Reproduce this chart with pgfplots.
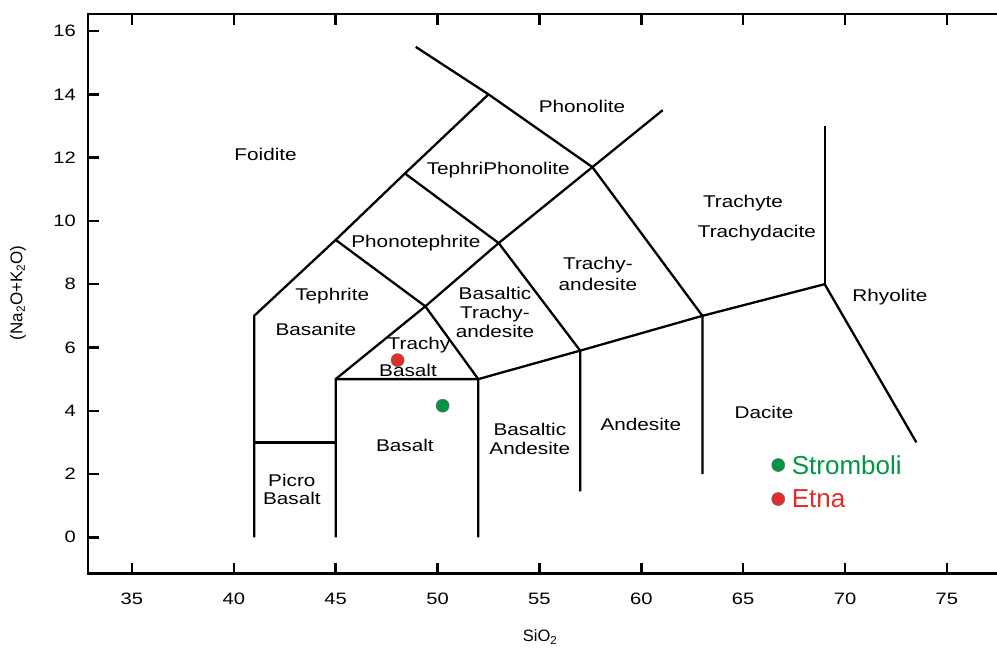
\documentclass[border=0pt]{standalone}
\usepackage{pgfplots}
\pgfplotsset{compat=1.18}
\usepackage{fontspec}
\setmainfont{Liberation Sans}
\newfontfamily\stretched[FakeStretch=1.22]{Liberation Sans}
\definecolor{sgreen}{RGB}{0,150,70}
\definecolor{ered}{RGB}{225,45,40}
\newcommand{\lbl}{\stretched\fontsize{17}{19}\selectfont}
\pgfplotsset{bnd/.style={black, solid, line width=2.3pt, no marks}}
\begin{document}
\begin{tikzpicture}
\begin{axis}[name=ax, scale only axis, width=911pt, height=559.4pt,
 xmin=32.86, xmax=77.57, ymin=-1.15, ymax=16.53,
 xtick={35,40,...,75}, ytick={0,2,...,16},
 tick align=inside, ytick pos=left, xtick pos=both,
 major tick length=11pt,
 axis line style={line width=2.4pt},
 tick style={line width=2.4pt, black},
 ticklabel style={font=\stretched\fontsize{16.5}{18}\selectfont},
 xticklabel style={yshift=-16pt},
 yticklabel style={xshift=-9pt},
 /pgf/number format/assume math mode=true,
 xlabel={SiO\textsubscript{2}}, ylabel={(Na\textsubscript{2}O+K\textsubscript{2}O)},
 x label style={font=\fontsize{16.5}{19}\selectfont, at={(axis description cs:0.496,-0.113)}, anchor=center},
 y label style={font=\fontsize{17}{19}\selectfont, at={(axis description cs:-0.0772,0.502)}, anchor=center, rotate=0},
 clip=false,
]
% boundary lines
\addplot[bnd] coordinates {(41,0) (41,7) (45,9.4) (48.4,11.5) (52.5,14)};
\addplot[bnd] coordinates {(48.93,15.5) (52.5,14) (57.6,11.7) (63,7) (63,2)};
\addplot[bnd] coordinates {(41,3) (45,3)};
\addplot[bnd] coordinates {(45,0) (45,5) (49.4,7.3) (53,9.3) (57.6,11.7) (61.05,13.5)};
\addplot[bnd] coordinates {(45,5) (52,5) (57,5.9) (63,7) (69,8) (73.5,3)};
\addplot[bnd] coordinates {(52,0) (52,5) (49.4,7.3) (45,9.4)};
\addplot[bnd] coordinates {(57,1.45) (57,5.9) (53,9.3) (48.4,11.5)};
\addplot[bnd] coordinates {(69,8) (69,13)};
% samples
\addplot[only marks, mark=*, mark size=6.5pt, mark options={fill=ered, draw=black!60, line width=0.5pt}] coordinates {(48.04,5.60)};
\addplot[only marks, mark=*, mark size=6.5pt, mark options={fill=sgreen, draw=black!60, line width=0.5pt}] coordinates {(50.25,4.16)};
% legend
\addplot[only marks, mark=*, mark size=6.5pt, mark options={fill=sgreen, draw=black!60, line width=0.5pt}] coordinates {(66.72,2.285)};
\addplot[only marks, mark=*, mark size=6.5pt, mark options={fill=ered, draw=black!60, line width=0.5pt}] coordinates {(66.72,1.21)};
\node[anchor=west, text=sgreen, font=\fontsize{26}{30}\selectfont, inner sep=0pt, xshift=13.4pt] at (axis cs:66.72,2.285) {Stromboli};
\node[anchor=west, text=ered, font=\fontsize{26}{30}\selectfont, inner sep=0pt, xshift=13.4pt] at (axis cs:66.72,1.21) {Etna};
% region labels
\begin{scope}[every node/.style={font=\lbl, align=center, inner sep=0pt}]
\node at (axis cs:41.56,12.11) {Foidite};
\node at (axis cs:57.09,13.63) {Phonolite};
\node at (axis cs:52.98,11.59) {TephriPhonolite};
\node at (axis cs:48.94,9.31) {Phonotephrite};
\node at (axis cs:44.83,7.63) {Tephrite};
\node at (axis cs:44.03,6.57) {Basanite};
\node at (axis cs:49.09,6.08) {Trachy};
\node at (axis cs:48.55,5.29) {Basalt};
\node[font=\stretched\fontsize{17}{19}\selectfont] at (axis cs:52.82,7.10) {Basaltic\\Trachy-\\andesite};
\node[font=\stretched\fontsize{17}{21}\selectfont] at (axis cs:57.87,8.31) {Trachy-\\andesite};
\node at (axis cs:64.99,10.57) {Trachyte};
\node at (axis cs:65.67,9.62) {Trachydacite};
\node at (axis cs:72.2,7.6) {Rhyolite};
\node at (axis cs:66.02,3.96) {Dacite};
\node at (axis cs:59.98,3.58) {Andesite};
\node[font=\stretched\fontsize{17}{19}\selectfont] at (axis cs:54.53,3.10) {Basaltic\\Andesite};
\node at (axis cs:48.4,2.89) {Basalt};
\node[font=\stretched\fontsize{17}{18}\selectfont] at (axis cs:42.85,1.50) {Picro\\Basalt};
\end{scope}
\end{axis}
\pgfresetboundingbox
\path[use as bounding box] ([xshift=-88.3pt,yshift=-74.3pt]ax.south west) rectangle ([xshift=908.7pt,yshift=573.7pt]ax.south west);
\end{tikzpicture}
\end{document}
